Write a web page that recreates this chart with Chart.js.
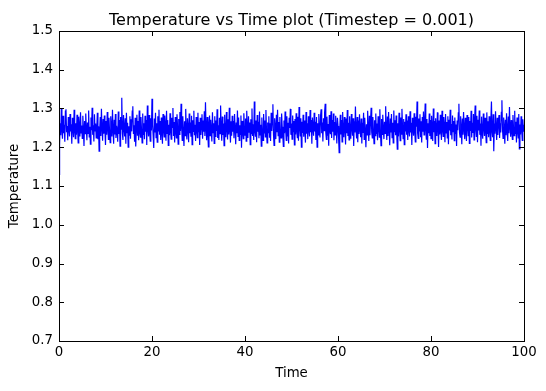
<!DOCTYPE html>
<html>
<head>
<meta charset="utf-8">
<script src="https://cdn.jsdelivr.net/npm/chart.js@4"></script>
<style>
  html, body { margin: 0; padding: 0; background: #fff; }
</style>
</head>
<body>
<canvas id="chart" width="546" height="391"></canvas>
<script>
/* Temperature vs time – MD run, every 0.125 time units */

const TITLE = 'Temperature vs Time plot (Timestep = 0.001)';
const X_LABEL = 'Time';
const Y_LABEL = 'Temperature';
const X_TICKS = [0, 20, 40, 60, 80, 100];
const Y_TICKS = [0.7, 0.8, 0.9, 1.0, 1.1, 1.2, 1.3, 1.4, 1.5];
const SAMPLE_STEP = 0.125;

// one row = 2.5 time units
const temperature = [
    1.130, 1.205, 1.262, 1.231, 1.300, 1.244, 1.222, 1.281, 1.236, 1.258, 1.214, 1.293, 1.298, 1.239, 1.255, 1.218, 1.278, 1.247, 1.228, 1.286,
    1.241, 1.259, 1.209, 1.276, 1.250, 1.226, 1.297, 1.243, 1.222, 1.262, 1.232, 1.284, 1.245, 1.211, 1.279, 1.252, 1.228, 1.290, 1.237, 1.256,
    1.223, 1.281, 1.246, 1.203, 1.268, 1.235, 1.287, 1.249, 1.218, 1.264, 1.236, 1.295, 1.227, 1.253, 1.208, 1.277, 1.244, 1.302, 1.232, 1.257,
    1.215, 1.285, 1.242, 1.261, 1.224, 1.248, 1.289, 1.221, 1.254, 1.190, 1.246, 1.278, 1.229, 1.299, 1.251, 1.217, 1.273, 1.235, 1.282, 1.244,
    1.206, 1.268, 1.232, 1.291, 1.249, 1.220, 1.276, 1.241, 1.212, 1.280, 1.252, 1.228, 1.297, 1.245, 1.209, 1.271, 1.233, 1.286, 1.224, 1.255,
    1.243, 1.214, 1.292, 1.234, 1.270, 1.203, 1.278, 1.247, 1.328, 1.236, 1.219, 1.283, 1.250, 1.228, 1.275, 1.209, 1.289, 1.238, 1.263, 1.200,
    1.254, 1.231, 1.280, 1.222, 1.272, 1.241, 1.293, 1.306, 1.236, 1.257, 1.214, 1.276, 1.202, 1.251, 1.284, 1.230, 1.268, 1.218, 1.295, 1.239,
    1.226, 1.278, 1.244, 1.211, 1.287, 1.233, 1.262, 1.221, 1.281, 1.240, 1.270, 1.206, 1.308, 1.250, 1.228, 1.283, 1.237, 1.216, 1.275, 1.243,
    1.325, 1.258, 1.230, 1.198, 1.274, 1.238, 1.289, 1.225, 1.262, 1.213, 1.280, 1.242, 1.297, 1.232, 1.268, 1.219, 1.277, 1.239, 1.209, 1.286,
    1.245, 1.227, 1.282, 1.256, 1.217, 1.294, 1.236, 1.270, 1.205, 1.258, 1.231, 1.288, 1.241, 1.221, 1.276, 1.251, 1.301, 1.229, 1.265, 1.212,
    1.278, 1.240, 1.224, 1.285, 1.252, 1.208, 1.273, 1.233, 1.291, 1.242, 1.312, 1.255, 1.218, 1.280, 1.237, 1.203, 1.267, 1.230, 1.299, 1.243,
    1.220, 1.275, 1.250, 1.213, 1.287, 1.236, 1.264, 1.227, 1.281, 1.207, 1.270, 1.241, 1.294, 1.231, 1.258, 1.216, 1.278, 1.244, 1.225, 1.289,
    1.239, 1.265, 1.206, 1.276, 1.232, 1.256, 1.285, 1.222, 1.269, 1.240, 1.293, 1.229, 1.316, 1.250, 1.218, 1.278, 1.236, 1.201, 1.263, 1.282,
    1.230, 1.271, 1.244, 1.215, 1.290, 1.238, 1.262, 1.210, 1.280, 1.228, 1.269, 1.242, 1.298, 1.224, 1.257, 1.219, 1.276, 1.235, 1.308, 1.252,
    1.217, 1.279, 1.232, 1.261, 1.204, 1.284, 1.241, 1.226, 1.291, 1.250, 1.220, 1.272, 1.233, 1.302, 1.247, 1.212, 1.267, 1.230, 1.281, 1.240,
    1.268, 1.223, 1.286, 1.248, 1.208, 1.264, 1.236, 1.295, 1.228, 1.277, 1.218, 1.257, 1.233, 1.282, 1.199, 1.268, 1.241, 1.222, 1.288, 1.251,
    1.231, 1.274, 1.216, 1.294, 1.249, 1.224, 1.280, 1.239, 1.264, 1.207, 1.272, 1.235, 1.300, 1.229, 1.259, 1.219, 1.318, 1.242, 1.227, 1.269,
    1.213, 1.283, 1.240, 1.266, 1.223, 1.292, 1.232, 1.258, 1.203, 1.277, 1.245, 1.218, 1.286, 1.237, 1.269, 1.227, 1.296, 1.243, 1.211, 1.264,
    1.238, 1.280, 1.226, 1.262, 1.216, 1.289, 1.242, 1.270, 1.311, 1.233, 1.205, 1.275, 1.251, 1.221, 1.284, 1.239, 1.297, 1.230, 1.265, 1.213,
    1.278, 1.241, 1.224, 1.287, 1.253, 1.231, 1.202, 1.269, 1.236, 1.292, 1.244, 1.218, 1.280, 1.228, 1.263, 1.210, 1.276, 1.250, 1.299, 1.232,
    1.261, 1.221, 1.282, 1.240, 1.268, 1.206, 1.273, 1.233, 1.288, 1.243, 1.225, 1.279, 1.217, 1.304, 1.251, 1.229, 1.275, 1.200, 1.266, 1.237,
    1.284, 1.227, 1.269, 1.242, 1.212, 1.291, 1.235, 1.262, 1.221, 1.280, 1.245, 1.228, 1.296, 1.239, 1.270, 1.209, 1.277, 1.252, 1.230, 1.289,
    1.241, 1.266, 1.219, 1.278, 1.200, 1.262, 1.232, 1.286, 1.245, 1.225, 1.281, 1.298, 1.236, 1.264, 1.215, 1.275, 1.243, 1.290, 1.312, 1.238,
    1.220, 1.279, 1.230, 1.260, 1.204, 1.283, 1.244, 1.234, 1.293, 1.224, 1.270, 1.240, 1.287, 1.218, 1.265, 1.232, 1.281, 1.250, 1.210, 1.276,
    1.255, 1.224, 1.186, 1.246, 1.284, 1.233, 1.270, 1.214, 1.291, 1.242, 1.226, 1.278, 1.252, 1.207, 1.274, 1.236, 1.296, 1.229, 1.263, 1.219,
    1.280, 1.240, 1.222, 1.286, 1.251, 1.230, 1.275, 1.203, 1.267, 1.238, 1.305, 1.244, 1.223, 1.278, 1.213, 1.269, 1.234, 1.285, 1.246, 1.226,
    1.274, 1.210, 1.263, 1.237, 1.289, 1.220, 1.276, 1.241, 1.200, 1.259, 1.232, 1.294, 1.250, 1.216, 1.281, 1.231, 1.268, 1.302, 1.239, 1.224,
    1.278, 1.243, 1.209, 1.270, 1.230, 1.287, 1.236, 1.261, 1.218, 1.280, 1.252, 1.226, 1.298, 1.240, 1.204, 1.273, 1.233, 1.284, 1.248, 1.221,
    1.266, 1.236, 1.306, 1.244, 1.219, 1.279, 1.229, 1.291, 1.245, 1.205, 1.274, 1.238, 1.286, 1.225, 1.263, 1.211, 1.295, 1.240, 1.270, 1.231,
    1.282, 1.238, 1.195, 1.262, 1.228, 1.289, 1.247, 1.217, 1.277, 1.234, 1.299, 1.252, 1.222, 1.273, 1.207, 1.266, 1.241, 1.285, 1.232, 1.269,
    1.219, 1.280, 1.245, 1.228, 1.293, 1.238, 1.263, 1.206, 1.276, 1.250, 1.230, 1.288, 1.242, 1.214, 1.279, 1.253, 1.318, 1.236, 1.223, 1.274,
    1.242, 1.285, 1.226, 1.267, 1.212, 1.278, 1.240, 1.292, 1.232, 1.261, 1.313, 1.246, 1.221, 1.273, 1.198, 1.262, 1.236, 1.287, 1.229, 1.270,
    1.222, 1.281, 1.248, 1.216, 1.300, 1.239, 1.268, 1.209, 1.275, 1.244, 1.229, 1.290, 1.252, 1.201, 1.269, 1.233, 1.284, 1.241, 1.219, 1.294,
    1.245, 1.228, 1.278, 1.255, 1.213, 1.286, 1.237, 1.265, 1.224, 1.280, 1.208, 1.271, 1.243, 1.297, 1.231, 1.260, 1.220, 1.282, 1.240, 1.268,
    1.217, 1.277, 1.236, 1.259, 1.203, 1.269, 1.244, 1.289, 1.312, 1.238, 1.226, 1.280, 1.251, 1.208, 1.274, 1.232, 1.291, 1.247, 1.221, 1.276,
    1.239, 1.216, 1.283, 1.256, 1.230, 1.278, 1.210, 1.268, 1.242, 1.294, 1.225, 1.263, 1.237, 1.286, 1.219, 1.270, 1.308, 1.245, 1.228, 1.281,
    1.213, 1.271, 1.243, 1.295, 1.232, 1.261, 1.204, 1.279, 1.238, 1.222, 1.287, 1.250, 1.229, 1.276, 1.244, 1.212, 1.290, 1.236, 1.267, 1.226,
    1.280, 1.243, 1.218, 1.269, 1.318, 1.240, 1.226, 1.285, 1.190, 1.261, 1.235, 1.293, 1.250, 1.219, 1.276, 1.232, 1.266, 1.283, 1.224, 1.262,
    1.238, 1.290, 1.321, 1.245, 1.223, 1.277, 1.252, 1.209, 1.271, 1.231, 1.288, 1.241, 1.216, 1.279, 1.236, 1.304, 1.252, 1.227, 1.270, 1.240,
    1.220, 1.283, 1.249, 1.230, 1.294, 1.236, 1.266, 1.212, 1.277, 1.243, 1.224, 1.286, 1.196, 1.259, 1.233, 1.280, 1.245, 1.218, 1.272, 1.240,
    1.258,
];

const FONT = 'DejaVu Sans, Verdana, sans-serif';
const FONT_SIZE = 13.33;
const TITLE_SIZE = 16;
const TICK_LEN = 5;

Chart.defaults.font.family = FONT;
Chart.defaults.font.size = FONT_SIZE;
Chart.defaults.color = '#000';

// matplotlib-style box with inward ticks on all four sides, title over the plot area
const frameTicks = {
    id: 'frameTicks',
    afterDatasetsDraw(chart) {
        const { ctx, chartArea: a, scales: { x, y } } = chart;
        ctx.save();
        ctx.strokeStyle = '#000';
        ctx.lineWidth = 1;
        ctx.beginPath();
        X_TICKS.forEach((v) => {
            const px = Math.round(x.getPixelForValue(v)) + 0.5;
            ctx.moveTo(px, a.bottom); ctx.lineTo(px, a.bottom - TICK_LEN);
            ctx.moveTo(px, a.top); ctx.lineTo(px, a.top + TICK_LEN);
        });
        Y_TICKS.forEach((v) => {
            const py = Math.round(y.getPixelForValue(v)) + 0.5;
            ctx.moveTo(a.left, py); ctx.lineTo(a.left + TICK_LEN, py);
            ctx.moveTo(a.right, py); ctx.lineTo(a.right - TICK_LEN, py);
        });
        ctx.stroke();
        ctx.strokeRect(a.left + 0.5, a.top + 0.5, a.right - a.left, a.bottom - a.top);
        ctx.restore();
    },
    afterDraw(chart) {
        const { ctx, chartArea: a } = chart;
        ctx.save();
        ctx.fillStyle = '#000';
        ctx.font = TITLE_SIZE + 'px ' + FONT;
        ctx.textAlign = 'center';
        ctx.textBaseline = 'alphabetic';
        ctx.fillText(TITLE, (a.left + a.right) / 2, 25);
        ctx.restore();
    },
};

new Chart(document.getElementById('chart'), {
    type: 'line',
    data: {
        datasets: [{
            label: Y_LABEL,
            data: temperature.map((t, i) => ({ x: i * SAMPLE_STEP, y: t })),
            borderColor: '#0000ff',
            borderWidth: 1.2,
            pointRadius: 0,
            tension: 0,
            fill: false,
        }],
    },
    options: {
        responsive: false,
        animation: false,
        devicePixelRatio: 1,
        layout: { padding: { top: 31, right: 22, left: 0, bottom: 0 } },
        plugins: {
            legend: { display: false },
            tooltip: { enabled: false },
            title: { display: false },
        },
        scales: {
            x: {
                type: 'linear',
                min: 0,
                max: 100,
                afterBuildTicks: (s) => { s.ticks = X_TICKS.map((v) => ({ value: v })); },
                afterFit: (s) => { s.height = 50; },
                ticks: { padding: 4, maxRotation: 0, autoSkip: false },
                grid: { display: false, drawTicks: false, tickLength: 0 },
                border: { display: false },
                title: { display: true, text: X_LABEL, padding: { top: 0, bottom: 9 } },
            },
            y: {
                type: 'linear',
                min: 0.7,
                max: 1.5,
                afterBuildTicks: (s) => { s.ticks = Y_TICKS.map((v) => ({ value: v })); },
                afterFit: (s) => { s.width = 59; },
                ticks: { padding: 6, autoSkip: false, callback: (v) => v.toFixed(1) },
                grid: { display: false, drawTicks: false, tickLength: 0 },
                border: { display: false },
                title: { display: true, text: Y_LABEL, padding: { top: 7, bottom: 0 } },
            },
        },
    },
    plugins: [frameTicks],
});
</script>
</body>
</html>
